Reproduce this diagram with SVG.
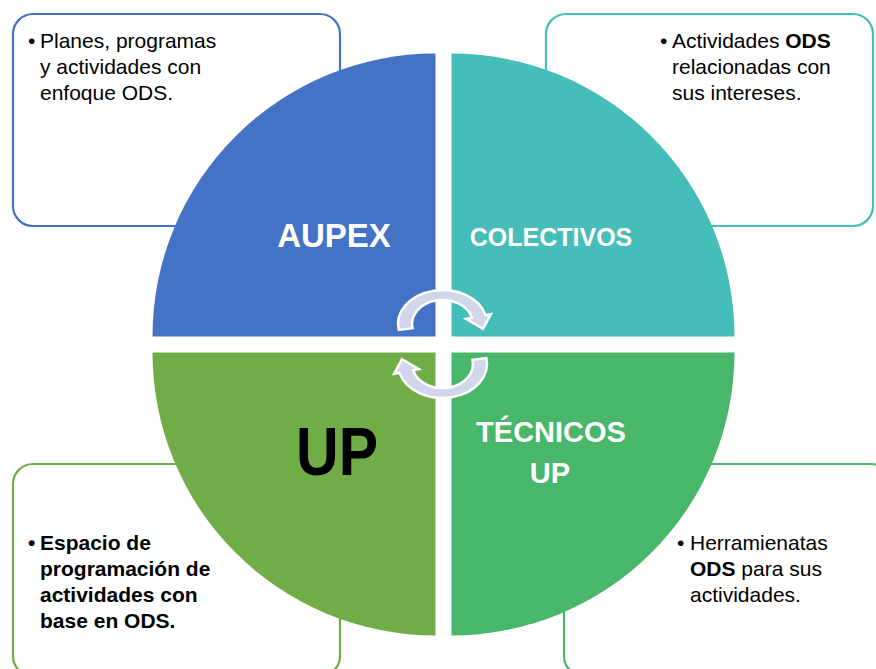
<svg xmlns="http://www.w3.org/2000/svg" width="876" height="669" viewBox="0 0 876 669">
<style>
.box{fill:#fff;stroke-width:2.2}
.t{font-family:"Liberation Sans",Arial,sans-serif;font-size:21px;fill:#000}
.b{font-weight:bold}
.lbl{font-family:"Liberation Sans",Arial,sans-serif;font-weight:bold;fill:#fff;text-anchor:middle}
.arr{fill:#D1D6EB;stroke:#fff;stroke-width:2.5;stroke-linejoin:miter}
</style>
<defs>
<path id="carrow" d="M398.7,329.9 A44.5,34 0 0,1 485.5,315.2 L490.9,314.2 L483,328.8 L466.1,318.9 L472,317.8 A30.5,24 0 0,0 412.5,328.2 Z"/>
</defs>
<rect width="876" height="669" fill="#fff"/>

<g id="box-aupex">
<rect class="box" x="13" y="14" width="327" height="212" rx="20" stroke="#4472C4"/>
<text class="t" x="28" y="48">•</text>
<text class="t" x="40" y="48">Planes, programas</text>
<text class="t" x="40" y="74">y actividades con</text>
<text class="t" x="40" y="100">enfoque ODS.</text>
</g>
<g id="box-colectivos">
<rect class="box" x="546" y="14" width="327" height="212" rx="20" stroke="#45BDB8"/>
<text class="t" x="660" y="48">•</text>
<text class="t" x="672" y="48">Actividades <tspan class="b">ODS</tspan></text>
<text class="t" x="672" y="74">relacionadas con</text>
<text class="t" x="672" y="100">sus intereses.</text>
</g>
<g id="box-up">
<rect class="box" x="13" y="464" width="327" height="212" rx="20" stroke="#70AD47"/>
<text class="t b" x="28" y="550">•</text>
<text class="t b" x="40" y="550">Espacio de</text>
<text class="t b" x="40" y="576">programación de</text>
<text class="t b" x="40" y="602">actividades con</text>
<text class="t b" x="40" y="628">base en ODS.</text>
</g>
<g id="box-tecnicos">
<rect class="box" x="564" y="464" width="327" height="212" rx="20" stroke="#48B769"/>
<text class="t" x="677" y="550">•</text>
<text class="t" x="690" y="550">Herramienatas</text>
<text class="t" x="690" y="576"><tspan class="b">ODS</tspan> para sus</text>
<text class="t" x="690" y="602">actividades.</text>
</g>

<g id="aupex">
<path d="M435.5,336.5 L152.5,336.5 A283,283 0 0,1 435.5,53.5 Z" fill="#4472C4"/>
<text class="lbl" x="334" y="247" font-size="33">AUPEX</text>
</g>
<g id="colectivos">
<path d="M451.5,336.5 L451.5,53.5 A283,283 0 0,1 734.5,336.5 Z" fill="#45BDB8"/>
<text class="lbl" x="551" y="246" font-size="25">COLECTIVOS</text>
</g>
<g id="tecnicos">
<path d="M451.5,352.5 L734.5,352.5 A283,283 0 0,1 451.5,635.5 Z" fill="#48B769"/>
<text class="lbl" x="551" y="442" font-size="29">TÉCNICOS</text>
<text class="lbl" x="550" y="483" font-size="29">UP</text>
</g>
<g id="up">
<path d="M435.5,352.5 L435.5,635.5 A283,283 0 0,1 152.5,352.5 Z" fill="#70AD47"/>
<text class="lbl" x="337" y="475" font-size="68" style="fill:#000" textLength="82" lengthAdjust="spacingAndGlyphs">UP</text>
</g>

<g id="connectors">
<use href="#carrow" class="arr"/>
<use href="#carrow" class="arr" transform="rotate(180 442.5 344)"/>
</g>
</svg>
